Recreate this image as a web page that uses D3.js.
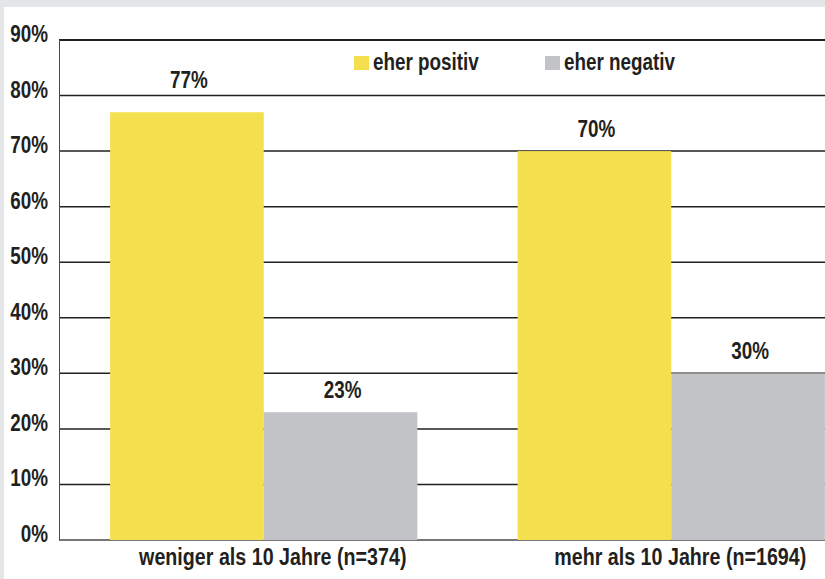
<!DOCTYPE html>
<html>
<head>
<meta charset="utf-8">
<script src="https://cdn.jsdelivr.net/npm/d3@7"></script>
<style>
  body { margin: 0; background: #e4e5e7; }
  svg { display: block; }
  text { font-family: "Liberation Sans", Arial, sans-serif; font-weight: bold; fill: #231f20; }
</style>
</head>
<body>
<div id="chart"></div>
<script>
// data
const categories = ["weniger als 10 Jahre (n=374)", "mehr als 10 Jahre (n=1694)"];
const seriesNames = ["eher positiv", "eher negativ"];
const positiv = [77, 70];
const negativ = [23, 30];
const yTicks = [0, 10, 20, 30, 40, 50, 60, 70, 80, 90];
const colors = ["#f4df4f", "#c2c3c7"];

const width = 825, height = 579;
const narrow = 0.82; // fake a condensed face, no narrow font installed

// place a squeezed text at x,y
function at(x, y) {
    return `translate(${x},${y}) scale(${narrow},1)`;
}

const svg = d3.select('#chart').append('svg')
    .attr('width', width)
    .attr('height', height);

// white panel
svg.append('rect')
    .attr('x', 4).attr('y', 7)
    .attr('width', width - 4).attr('height', height - 7)
    .attr('fill', '#ffffff');

const y = d3.scaleLinear()
    .domain([0, 90])
    .range([540, 40]);

// plot runs off the right edge like the original
const x0 = d3.scaleBand()
    .domain(categories)
    .range([60, 875])
    .paddingInner(0.246)
    .paddingOuter(0.123);

const x1 = d3.scaleBand()
    .domain(seriesNames)
    .range([0, x0.bandwidth()]);

// gridlines
svg.append('g').selectAll('line')
    .data(yTicks)
    .join('line')
    .attr('x1', 59).attr('x2', width)
    .attr('y1', d => y(d)).attr('y2', d => y(d))
    .attr('stroke', d => d === 0 ? '#4a4a4a' : '#231f20')
    .attr('stroke-width', d => d === 90 ? 2 : 1.5);

// y axis line
svg.append('line')
    .attr('x1', 59.5).attr('x2', 59.5)
    .attr('y1', y(90)).attr('y2', y(0))
    .attr('stroke', '#4a4a4a')
    .attr('stroke-width', 1);

// tick labels
svg.append('g').selectAll('text')
    .data(yTicks)
    .join('text')
    .attr('transform', d => at(48, y(d) + 2))
    .attr('text-anchor', 'end')
    .style('font-size', '23px')
    .text(d => d + '%');

// bars
const rows = categories.map((c, i) => ({cat: c, vals: [positiv[i], negativ[i]]}));

const groups = svg.append('g').selectAll('g')
    .data(rows)
    .join('g')
    .attr('transform', d => `translate(${x0(d.cat)},0)`);

groups.selectAll('rect')
    .data(d => d.vals.map((v, j) => ({name: seriesNames[j], v: v, j: j})))
    .join('rect')
    .attr('x', d => x1(d.name))
    .attr('y', d => y(d.v))
    .attr('width', x1.bandwidth())
    .attr('height', d => y(0) - y(d.v))
    .attr('fill', d => colors[d.j]);

// value labels, nudged up when they would sit on a gridline
function labelY(v) {
    let b = y(v) - 14;
    yTicks.forEach(t => {
        const g = y(t);
        if (g > b - 18 && g < b + 2) b = g - 8;
    });
    return b;
}

groups.selectAll('text')
    .data(d => d.vals.map((v, j) => ({name: seriesNames[j], v: v})))
    .join('text')
    .attr('transform', d => at(x1(d.name) + x1.bandwidth() / 2 + 2, labelY(d.v)))
    .attr('text-anchor', 'middle')
    .style('font-size', '23px')
    .text(d => d.v + '%');

// category labels
svg.append('g').selectAll('text')
    .data(categories)
    .join('text')
    .attr('transform', d => at(x0(d) + x0.bandwidth() / 2 + 9, 565))
    .attr('text-anchor', 'middle')
    .style('font-size', '24px')
    .text(d => d);

// legend
const legendX = [354, 545];
const legend = svg.append('g').selectAll('g')
    .data(seriesNames)
    .join('g')
    .attr('transform', (d, i) => `translate(${legendX[i]},56)`);

legend.append('rect')
    .attr('width', 15).attr('height', 14)
    .attr('fill', (d, i) => colors[i]);

legend.append('text')
    .attr('transform', at(19, 14))
    .style('font-size', '23px')
    .text(d => d);
</script>
</body>
</html>
